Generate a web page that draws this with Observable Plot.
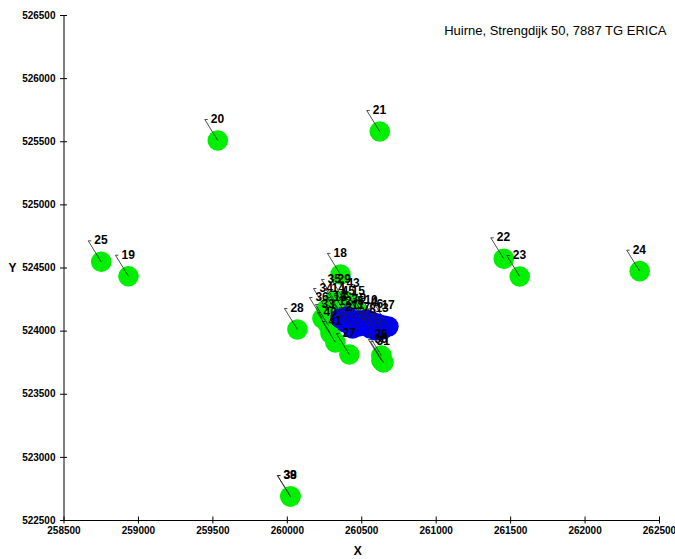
<!DOCTYPE html>
<html><head><meta charset="utf-8">
<script src="https://cdn.jsdelivr.net/npm/d3@7"></script>
<script src="https://cdn.jsdelivr.net/npm/@observablehq/plot@0.6"></script>
<style>body{margin:0;background:#fff;}</style>
</head><body><div id="chart"></div>
<script>
const title = "Huirne, Strengdijk 50, 7887 TG ERICA";
const xTicks = [258500, 259000, 259500, 260000, 260500, 261000, 261500, 262000, 262500];
const yTicks = [522500, 523000, 523500, 524000, 524500, 525000, 525500, 526000, 526500];

const greenLabels = ["18","35","29","43","34","14","45","15","33","36","40","41","27","26","30","31","28","38","39","20","21","25","19","22","23","24"];
const greenX = [260357,260317,260384,260444,260263,260344,260411,260478,260276,260236,260290,260323,260417,260632,260632,260646,260068,260021,260021,259533,260621,258750,258933,261454,261561,262367];
const greenY = [524449,524243,524243,524211,524171,524171,524148,524148,524045,524100,523981,523910,523815,523807,523767,523751,524013,522690,522690,525510,525581,524549,524435,524573,524433,524475];

const blueLabels = ["1","2","3","4","5","6","7","8","9","10","11","12","13","16","17"];
const blueX = [260404,260438,260478,260605,260518,260646,260558,260598,260532,260565,260478,260391,260639,260357,260679];
const blueY = [524116,524021,524084,524060,524068,524045,524021,524005,524092,524076,524037,524068,524013,524100,524037];

const green = greenLabels.map((l, i) => ({label: l, x: greenX[i], y: greenY[i]}));
const blue = blueLabels.map((l, i) => ({label: l, x: blueX[i], y: blueY[i]}));
const all = green.concat(blue);

const leader = {draw(ctx) { ctx.moveTo(0, 0); ctx.lineTo(-13, -21); ctx.lineTo(-10, -21); }};

const chart = Plot.plot({
  width: 675, height: 559,
  marginLeft: 63.5, marginRight: 16, marginTop: 15, marginBottom: 39,
  style: {fontFamily: "'Liberation Sans', Arial, sans-serif", background: "#fff", color: "#000"},
  x: {domain: [258500, 262500]},
  y: {domain: [522500, 526500]},
  marks: [
    Plot.axisX({ticks: xTicks, tickSize: 7, dy: -3.5, tickPadding: 3, tickFormat: "d", fontSize: 10, fontWeight: "bold", label: null}),
    Plot.axisY({ticks: yTicks, tickSize: 7, dx: 3.5, tickPadding: 5, tickFormat: "d", fontSize: 10, fontWeight: "bold", label: null}),
    Plot.ruleX([258500], {stroke: "#000"}),
    Plot.ruleY([522500], {stroke: "#000"}),
    Plot.dot(green, {x: "x", y: "y", r: 10.3, fill: "#00ee00"}),
    Plot.dot(blue, {x: "x", y: "y", r: 10.3, fill: "#0000ee"}),
    Plot.dot(all, {x: "x", y: "y", symbol: leader, fill: "none", stroke: "#222", strokeWidth: 0.8}),
    Plot.text(all, {x: "x", y: "y", text: "label", dx: -7, dy: -21.5, textAnchor: "start", fontSize: 12, fontWeight: "bold", fill: "#000"}),
    Plot.text([title], {frameAnchor: "top-right", dx: 7, dy: 15, lineAnchor: "middle", textAnchor: "end", fontSize: 13, fill: "#000"}),
    Plot.text(["Y"], {frameAnchor: "left", dx: -51.5, dy: 0.5, textAnchor: "middle", lineAnchor: "middle", fontSize: 12, fontWeight: "bold"}),
    Plot.text(["X"], {frameAnchor: "bottom", dx: -4, dy: 31, textAnchor: "middle", lineAnchor: "middle", fontSize: 12, fontWeight: "bold"})
  ]
});
document.getElementById("chart").appendChild(chart);
</script>
</body></html>
